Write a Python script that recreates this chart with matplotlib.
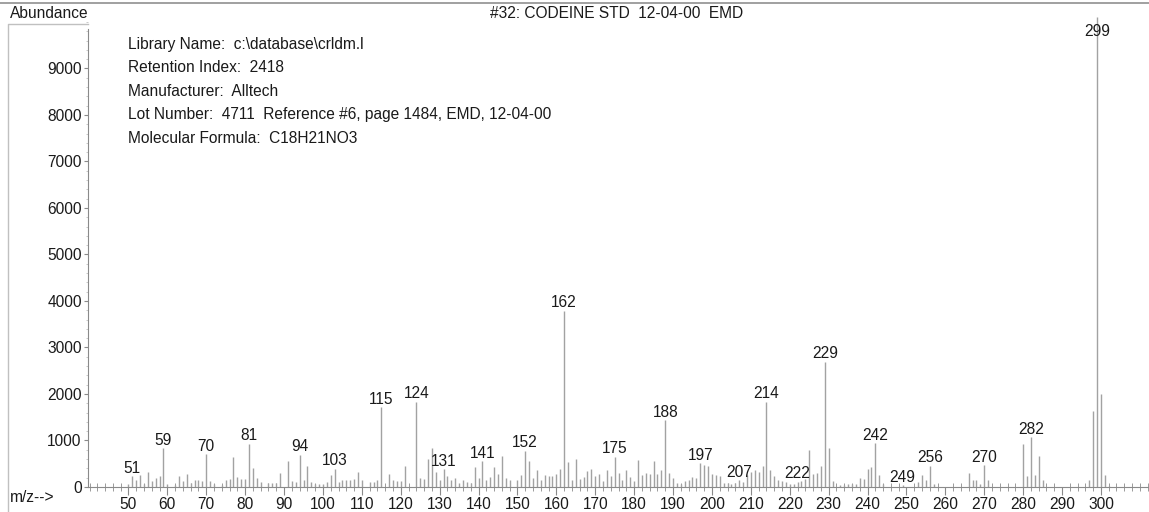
import matplotlib
matplotlib.use("Agg")
import matplotlib.pyplot as plt
from matplotlib.ticker import MultipleLocator
from matplotlib.lines import Line2D

plt.rcParams['font.family'] = ['Liberation Sans', 'DejaVu Sans']

# spectrum (m/z, abundance)
mz = [50, 51, 52, 53, 54, 55, 56, 57, 58, 59, 60, 62, 63, 64, 65, 66, 67, 68, 69, 70,
      71, 72, 74, 75, 76, 77, 78, 79, 80, 81, 82, 83, 84, 86, 87, 88, 89, 91, 92, 93,
      94, 95, 96, 97, 98, 99, 100, 101, 102, 103, 104, 105, 106, 107, 108, 109, 110,
      112, 113, 114, 115, 117, 118, 119, 120, 121, 124, 125, 126, 127, 128, 129, 130,
      131, 132, 133, 134, 135, 136, 137, 138, 139, 140, 141, 142, 143, 144, 145, 146,
      147, 148, 150, 151, 152, 153, 154, 155, 156, 157, 158, 159, 160, 161, 162, 163,
      164, 165, 166, 167, 168, 169, 170, 171, 172, 173, 174, 175, 176, 177, 178, 179,
      180, 181, 182, 183, 184, 185, 186, 187, 188, 189, 190, 191, 192, 193, 194, 195,
      196, 197, 198, 199, 200, 201, 202, 203, 204, 205, 206, 207, 208, 209, 210, 211,
      212, 213, 214, 215, 216, 217, 218, 219, 220, 221, 222, 223, 224, 225, 226, 227,
      228, 229, 230, 231, 233, 234, 235, 236, 237, 238, 239, 240, 241, 242, 243, 244,
      249, 253, 254, 255, 256, 257, 266, 267, 268, 269, 270, 271, 280, 281, 282, 283,
      284, 285, 297, 298, 299, 300, 301, 302]
abundance = [70, 230, 150, 250, 60, 330, 120, 200, 230, 830, 60, 40, 240, 130, 290, 90, 150, 140, 120, 700,
             130, 60, 40, 140, 170, 650, 210, 180, 170, 930, 410, 200, 110, 80, 80, 80, 300, 560, 120, 100,
             690, 160, 450, 110, 60, 60, 70, 110, 250, 390, 110, 160, 140, 160, 170, 330, 150,
             100, 110, 160, 1710, 290, 160, 120, 120, 460, 1830, 200, 170, 600, 840, 330, 150,
             380, 230, 150, 200, 80, 140, 110, 90, 430, 200, 550, 150, 210, 440, 280, 670,
             200, 140, 150, 250, 780, 550, 200, 360, 160, 250, 230, 230, 290, 390, 3790, 540,
             140, 600, 170, 210, 350, 380, 230, 280, 130, 360, 230, 650, 300, 160, 360, 210,
             120, 580, 250, 300, 280, 550, 280, 360, 1440, 300, 190, 80, 60, 120, 160, 210,
             200, 510, 480, 450, 280, 250, 230, 80, 80, 60, 80, 140, 100, 250, 320, 370,
             320, 450, 1830, 360, 230, 140, 120, 110, 60, 60, 110, 130, 170, 790, 280, 300,
             450, 2690, 840, 120, 40, 50, 60, 60, 60, 200, 170, 390, 430, 940, 260, 60,
             40, 100, 260, 150, 460, 70, 300, 160, 160, 60, 470, 160, 920, 240, 1070, 250,
             670, 140, 160, 1640, 10100, 1990, 260, 30]

labelled = [51, 59, 70, 81, 94, 103, 115, 124, 131, 141, 152, 162, 175, 188, 197,
            207, 214, 222, 229, 242, 249, 256, 270, 282, 299]

x_ticks = list(range(50, 301, 10))
y_ticks = list(range(0, 9001, 1000))

title = "#32: CODEINE STD  12-04-00  EMD"
info_lines = ["Library Name:  c:\\database\\crldm.l",
              "Retention Index:  2418",
              "Manufacturer:  Alltech",
              "Lot Number:  4711  Reference #6, page 1484, EMD, 12-04-00",
              "Molecular Formula:  C18H21NO3"]

W, H = 1149, 512
fig = plt.figure(figsize=(W / 100, H / 100), dpi=100)
ax = fig.add_axes([88 / W, 25 / H, (1148 - 88) / W, (487 - 15) / H])

bar_col = "#a2a2a2"
axis_col = "#8a8a8a"
txt_col = "#1a1a1a"
fs = 11.2

ax.vlines(mz, 0, abundance, color=bar_col, linewidth=1.0)
ax.set_xlim(39.6, 312.1)
ax.set_ylim(0, 10150)

lookup = dict(zip(mz, abundance))
for m in labelled:
    if m == 299:
        ax.text(m, 9800, str(m), ha="center", va="center", fontsize=fs, color=txt_col)
    else:
        ax.annotate(str(m), (m, lookup[m]), xytext=(0, 0.3), textcoords="offset points",
                    ha="center", va="bottom", fontsize=fs, color=txt_col)

for s in ("top", "right"):
    ax.spines[s].set_visible(False)
ax.spines["left"].set_color(axis_col)
ax.spines["bottom"].set_color(axis_col)
ax.spines["left"].set_bounds(0, 9850)

ax.set_xticks(x_ticks)
ax.xaxis.set_minor_locator(MultipleLocator(2))
ax.set_yticks(y_ticks)
ax.yaxis.set_minor_locator(MultipleLocator(200))
ax.tick_params(axis="x", which="major", direction="out", length=6, color=axis_col,
               labelsize=fs, labelcolor=txt_col, pad=1.5)
ax.tick_params(axis="x", which="minor", direction="inout", length=6, color=axis_col)
ax.tick_params(axis="y", which="major", direction="out", length=3, color=axis_col,
               labelsize=fs, labelcolor=txt_col, pad=1.5)
ax.tick_params(axis="y", which="minor", direction="out", length=1.5, color="#c0c0c0")

# header texts
fig.text(10 / W, 1 - 13 / H, "Abundance", fontsize=fs, color=txt_col, va="center", ha="left")
fig.text(617 / W, 1 - 13 / H, title, fontsize=fs, color=txt_col, va="center", ha="center")
fig.text(10 / W, (512 - 497) / H, "m/z-->", fontsize=fs, color=txt_col,
         va="center", ha="left")

for i, line in enumerate(info_lines):
    fig.text(128 / W, 1 - (44 + i * 23.6) / H, line, fontsize=fs, color=txt_col,
             va="center", ha="left")

# frame pieces from the cropped page
fig.add_artist(Line2D([0, 1], [1 - 3 / H, 1 - 3 / H], transform=fig.transFigure,
                      color="#909090", linewidth=1.2))
fig.add_artist(Line2D([8 / W, 8 / W, 88 / W], [0, 1 - 24 / H, 1 - 24 / H],
                      transform=fig.transFigure, color="#c0c0c0", linewidth=1.0))

fig.savefig("out.png", dpi=100)
